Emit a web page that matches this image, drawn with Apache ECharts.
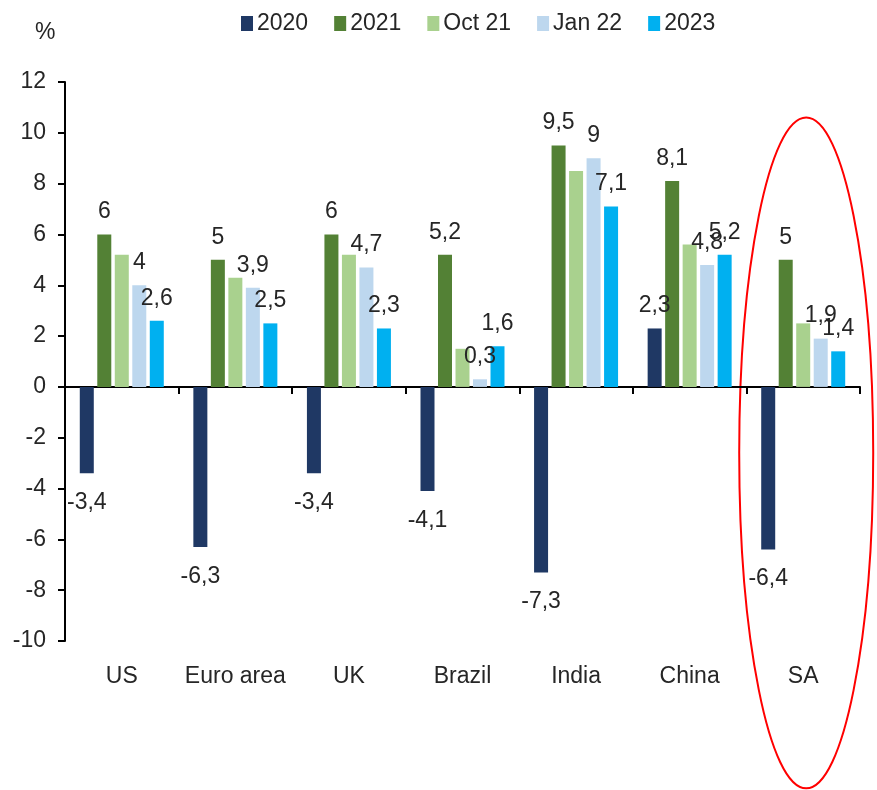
<!DOCTYPE html>
<html>
<head>
<meta charset="utf-8">
<script src="https://cdn.jsdelivr.net/npm/echarts@6/dist/echarts.min.js"></script>
<style>
  html, body { margin: 0; padding: 0; background: #fff; }
  #chart { width: 877px; height: 790px; }
</style>
</head>
<body>
<div id="chart"></div>
<script>
// GDP growth by economy, % y/y
const categories = ['US', 'Euro area', 'UK', 'Brazil', 'India', 'China', 'SA'];
const seriesNames = ['2020', '2021', 'Oct 21', 'Jan 22', '2023'];
const growth2020 = [-3.4, -6.3, -3.4, -4.1, -7.3, 2.3, -6.4];
const growth2021 = [6, 5, 6, 5.2, 9.5, 8.1, 5];
const forecastOct21 = [5.2, 4.3, 5.2, 1.5, 8.5, 5.6, 2.5];
const forecastJan22 = [4, 3.9, 4.7, 0.3, 9, 4.8, 1.9];
const forecast2023 = [2.6, 2.5, 2.3, 1.6, 7.1, 5.2, 1.4];
const yTicks = { min: -10, max: 12, step: 2 };

const seriesValues = [growth2020, growth2021, forecastOct21, forecastJan22, forecast2023];
const colors = ['#1f3864', '#538135', '#a9d18e', '#bdd7ee', '#00b0f0'];
const labelled = [true, true, false, true, true];

const FONT = "'Liberation Sans', Arial, sans-serif";
const FS = 23;
const TEXT = '#262626';

const fmt = v => String(v).replace('.', ',');

const series = seriesValues.map((vals, i) => ({
  name: seriesNames[i],
  type: 'bar',
  xAxisIndex: 0,
  barWidth: 14,
  barGap: '25%',
  itemStyle: { color: colors[i] },
  data: vals.map(v => ({
    value: v,
    label: {
      show: labelled[i],
      position: v < 0 ? 'bottom' : 'top',
      distance: v < 0 ? 18 : 11
    }
  })),
  label: {
    show: labelled[i],
    color: TEXT,
    fontFamily: FONT,
    fontSize: FS,
    formatter: p => fmt(p.value)
  },
  emphasis: { disabled: true }
}));

const chart = echarts.init(document.getElementById('chart'), null, { renderer: 'canvas' });

chart.setOption({
  animation: false,
  backgroundColor: '#ffffff',
  textStyle: { fontFamily: FONT },
  legend: {
    data: seriesNames,
    left: 236,
    top: 7,
    icon: 'rect',
    itemWidth: 12,
    itemHeight: 15,
    itemGap: 26,
    textStyle: { fontFamily: FONT, fontSize: FS, color: TEXT, padding: [0, 0, 0, -1] }
  },
  grid: { left: 65, right: 17, top: 82, bottom: 149, containLabel: false },
  xAxis: [
    {
      type: 'category',
      data: categories,
      position: 'bottom',
      axisLine: { onZero: true, lineStyle: { color: '#000', width: 2 } },
      axisTick: { show: true, length: 7, lineStyle: { color: '#000', width: 2 } },
      axisLabel: { show: false },
      splitLine: { show: false }
    },
    {
      type: 'category',
      data: categories,
      position: 'bottom',
      axisLine: { show: false, onZero: false },
      axisTick: { show: false },
      axisLabel: { show: true, interval: 0, color: TEXT, fontFamily: FONT, fontSize: FS, margin: 24 },
      splitLine: { show: false }
    }
  ],
  yAxis: {
    type: 'value',
    min: yTicks.min,
    max: yTicks.max,
    interval: yTicks.step,
    axisLine: { show: true, lineStyle: { color: '#000', width: 2 } },
    axisTick: { show: true, length: 7, lineStyle: { color: '#000', width: 2 } },
    axisLabel: { color: TEXT, fontFamily: FONT, fontSize: FS, margin: 19, formatter: v => fmt(v) },
    splitLine: { show: false }
  },
  series: series
});

// Unit marker and highlight ring around South Africa
const saX = chart.convertToPixel({ xAxisIndex: 0 }, 'SA');
const ringTop = chart.convertToPixel({ yAxisIndex: 0 }, 10.6);
const ringBottom = chart.convertToPixel({ yAxisIndex: 0 }, -15.8);

chart.setOption({
  graphic: [
    {
      type: 'text',
      left: 35,
      top: 21,
      style: { text: '%', fill: TEXT, font: FS + 'px ' + FONT }
    },
    {
      type: 'ellipse',
      shape: {
        cx: saX + 3,
        cy: (ringTop + ringBottom) / 2,
        rx: 67,
        ry: (ringBottom - ringTop) / 2
      },
      style: { fill: 'none', stroke: '#ff0000', lineWidth: 2 },
      silent: true
    }
  ]
});
</script>
</body>
</html>
